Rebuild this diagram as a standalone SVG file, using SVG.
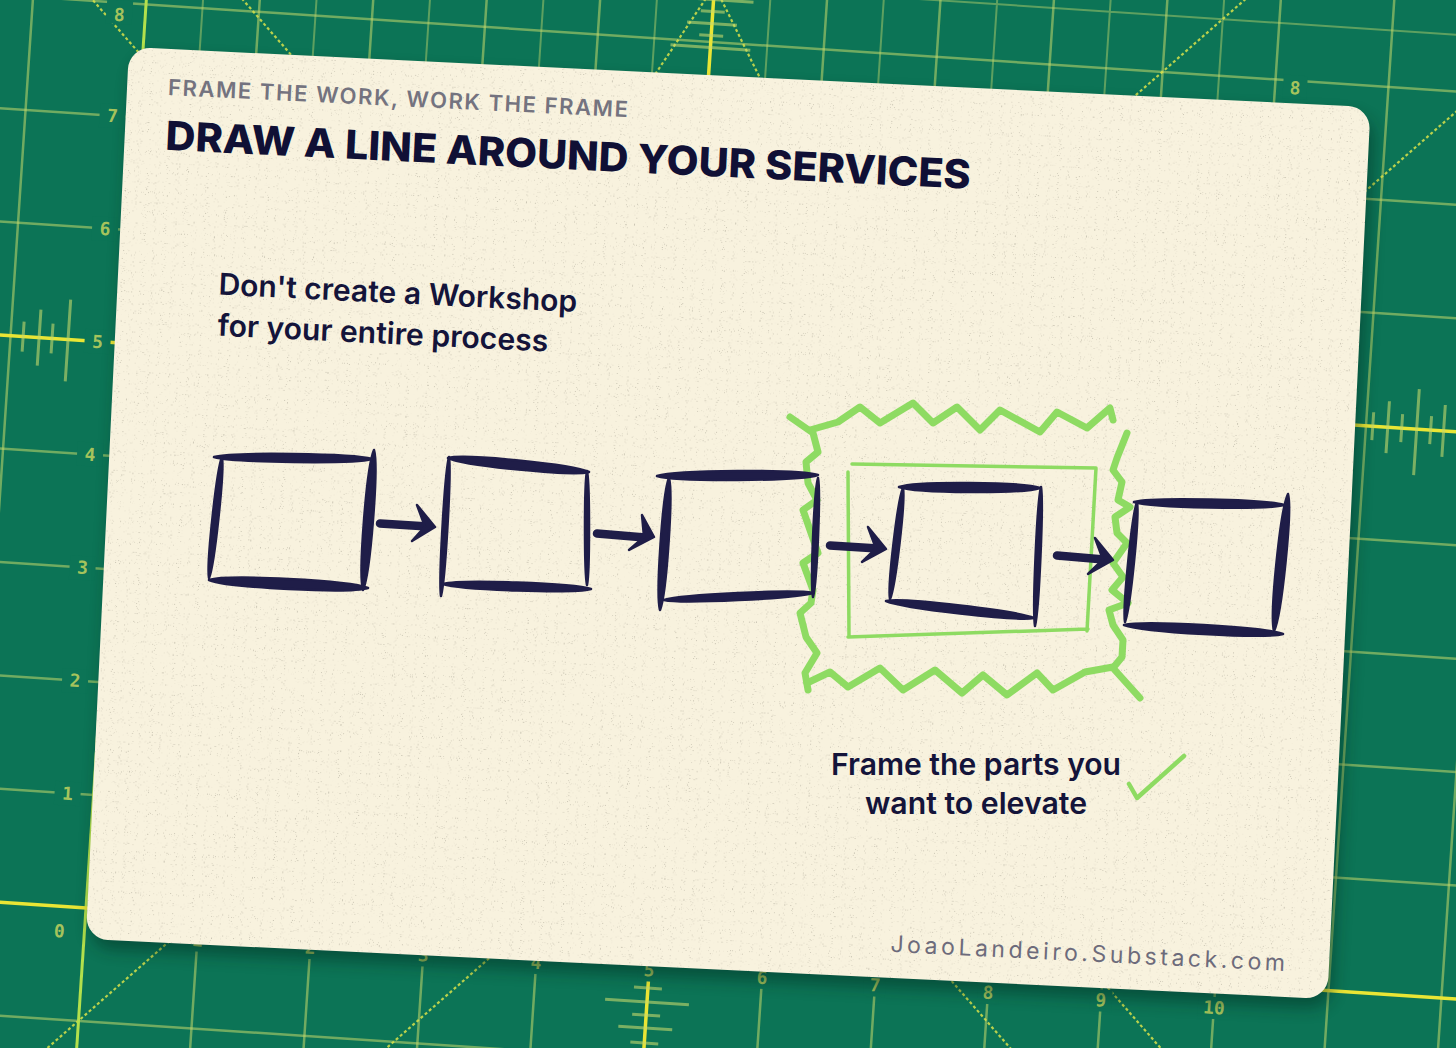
<svg xmlns="http://www.w3.org/2000/svg" width="1456" height="1048" viewBox="0 0 1456 1048">
<defs>
<style>
.g{fill:none;stroke:#c4d86c;stroke-opacity:.55;stroke-width:2.5}
.gh{fill:none;stroke:#c4d86c;stroke-opacity:.45;stroke-width:2}
.yl{fill:none;stroke:#e9e535;stroke-width:3.5}
.gz{fill:none;stroke:#b3e04c;stroke-width:3}
.diag{fill:none;stroke:#d9e24a;stroke-width:2.2;stroke-dasharray:3 2.5;stroke-opacity:.85}
.tick{fill:none;stroke:#c4d86c;stroke-opacity:.6;stroke-width:3}
.num{font-family:'DejaVu Sans Mono',monospace;font-weight:bold;font-size:18px;fill:#c2d25e;fill-opacity:.85;text-anchor:middle}
.ink{fill:#1f1d48;stroke:#1f1d48;stroke-width:2.5;stroke-linejoin:round}
.shaft{fill:none;stroke:#1f1d48;stroke-width:8.5;stroke-linecap:round}
.lime{fill:none;stroke:#8edb62;stroke-linejoin:round;stroke-linecap:round}
.sub{font-family:Inter,'Liberation Sans',sans-serif;font-weight:600;font-size:22px;fill:#74737f;letter-spacing:1.7px}
.title{font-family:Inter,'Liberation Sans',sans-serif;font-weight:800;font-size:40px;fill:#101035}
.lead{font-family:Inter,'Liberation Sans',sans-serif;font-weight:600;font-size:30px;fill:#14143a}
.url{font-family:Inter,'Liberation Sans',sans-serif;font-weight:400;font-size:23px;fill:#6d6b7b;letter-spacing:4px}
</style>
<filter id="sh" x="-5%" y="-5%" width="110%" height="115%"><feGaussianBlur stdDeviation="8"/></filter>
<filter id="grain" x="0" y="0" width="100%" height="100%">
<feTurbulence type="fractalNoise" baseFrequency="0.9" numOctaves="1" seed="7" result="n"/>
<feColorMatrix in="n" type="matrix" values="0 0 0 0 0.3 0 0 0 0 0.28 0 0 0 0 0.22 10 0 0 0 -6.5"/>
<feComposite in2="SourceGraphic" operator="in"/>
</filter>
</defs>

<rect width="1456" height="1048" fill="#0c7456"/>

<g id="mat" transform="translate(86 908) rotate(3.8)">
<path class="g" d="M-200 113.2H1420M-200 -113.2H1420M-200 -226.4H1420M-200 -339.6H1420M-200 -452.8H1420M-200 -679.2H1420M-200 -792.4H1420M-200 -905.6H1420"/>
<path class="g" d="M-113.2 -1060V200M113.2 -1060V200M226.4 -1060V200M339.6 -1060V200M452.8 -1060V200M679.2 -1060V200M792.4 -1060V200M905.6 -1060V200M1018.8 -1060V200M1132 -1060V200M1245.2 -1060V200M1358.4 -1060V200"/>
<path class="gh" d="M56.6 -1060V-850M169.8 -1060V-850M283 -1060V-850M396.2 -1060V-850M509.4 -1060V-850M622.6 -1060V-850M735.8 -1060V-850M849 -1060V-850M962.2 -1060V-850M1075.4 -1060V-850M-200 -962.2H1420"/>
<path class="diag" d="M-197 -1050L1053 200M-37 -1050L1213 200M1163 -1050L-87 200M1479 -1050L229 200M616 -1048.6L366 -615.6M516 -1048.6L766 -615.6"/>
<path class="gz" d="M0 -1060V200"/>
<path class="yl" d="M-200 0H1420M-200 -566H1420M566 -1060V200"/>
<path class="tick" d="M-100.6 -581V-551M-84.6 -594V-538M-71.6 -581V-551M-55.6 -606V-524M1252 -580V-552M1267 -592V-540M1281 -580V-552M1296 -606V-520M1310 -580V-552M1323 -592V-540M552 42.6H580M524 56.6H608M552 69.7H580M539 82.7H593M552 97.7H580M526 -948H606M554 -936H578M541 -924H591M554 -912H578M526 -900H606"/>
<g fill="#0c7456">
<rect x="-39" y="-125" width="26" height="24"/><rect x="-39" y="-238" width="26" height="24"/><rect x="-39" y="-351" width="26" height="24"/><rect x="-39" y="-465" width="26" height="24"/><rect x="-39" y="-578" width="26" height="24"/><rect x="-39" y="-691" width="26" height="24"/><rect x="-39" y="-804" width="26" height="24"/><rect x="-39" y="-908" width="26" height="24"/>
<rect x="102" y="14" width="22" height="22"/><rect x="215" y="14" width="22" height="22"/><rect x="328" y="14" width="22" height="22"/><rect x="442" y="14" width="22" height="22"/><rect x="555" y="14" width="22" height="22"/><rect x="668" y="14" width="22" height="22"/><rect x="781" y="14" width="22" height="22"/><rect x="895" y="14" width="22" height="22"/><rect x="1008" y="14" width="22" height="22"/><rect x="1116" y="14" width="32" height="22"/>
<rect x="1140" y="-911" width="24" height="24"/>
</g>
<g class="num">
<text x="-26" y="-106.7">1</text><text x="-26" y="-219.9">2</text><text x="-26" y="-333.1">3</text><text x="-26" y="-446.3">4</text><text x="-26" y="-559.5">5</text><text x="-26" y="-672.7">6</text><text x="-26" y="-785.9">7</text><text x="-26" y="-887">8</text><text x="-25" y="31">0</text>
<text x="113.2" y="31">1</text><text x="226.4" y="31">2</text><text x="339.6" y="31">3</text><text x="452.8" y="31">4</text><text x="566" y="31">5</text><text x="679.2" y="31">6</text><text x="792.4" y="31">7</text><text x="905.6" y="31">8</text><text x="1018.8" y="31">9</text><text x="1132" y="31">10</text>
<text x="1152" y="-892">8</text>
</g>
</g>

<rect transform="translate(133 57) rotate(2.77)" width="1243" height="893" rx="22" fill="#01281a" opacity="0.45" filter="url(#sh)"/>

<g id="card" transform="translate(129 47) rotate(2.77)">
<rect width="1243" height="893" rx="22" fill="#f8f2de"/>
<rect width="1243" height="893" rx="22" fill="#f8f2de" filter="url(#grain)" opacity="0.45"/>
<text class="sub" x="41" y="46" textLength="462" lengthAdjust="spacing">FRAME THE WORK, WORK THE FRAME</text>
<text class="title" x="41" y="101" textLength="806" lengthAdjust="spacingAndGlyphs">DRAW A LINE AROUND YOUR SERVICES</text>
<text class="lead" x="101" y="243" textLength="359" lengthAdjust="spacingAndGlyphs">Don't create a Workshop</text>
<text class="lead" x="102" y="284" textLength="331" lengthAdjust="spacingAndGlyphs">for your entire process</text>
<text class="url" x="804" y="867" textLength="399" lengthAdjust="spacing">JoaoLandeiro.Substack.com</text>
</g>

<g id="focus-frame" class="lime">
<path stroke-width="7" d="M790 417L813 433L818 452L806 462L808 483L817 500L803 510L810 530L818 553L803 563L813 590L811 603L800 613L806 637L817 653L805 673L808 690"/>
<path stroke-width="7" d="M810 430L838 422L860 407L880 423L913 403L933 423L957 407L980 430L1000 410L1040 432L1057 412L1087 428L1110 408L1113 420"/>
<path stroke-width="7" d="M1127 433L1117 458L1113 470L1122 482L1118 500L1130 507L1115 517L1117 533L1127 543L1113 563L1123 577L1112 590L1128 603L1109 610L1113 625L1123 640L1122 657L1113 668L1140 698"/>
<path stroke-width="7" d="M807 683L830 672L848 687L880 668L903 690L935 670L962 693L983 675L1007 695L1037 673L1053 690L1085 672L1113 667"/>
<path stroke-width="3.5" d="M852 464L1096 468M1096 468L1087 631M848 637L1088 629M848 472L849 637"/>
</g>

<g id="box1" class="ink">
<path d="M214 457C233 451.9 353 453.5 372 459C353 464.1 233 462.5 214 457Z"/>
<path d="M374 450C378.7 466.8 370.3 573.2 363 590C358.3 573.2 366.7 466.8 374 450Z"/>
<path d="M209 580C228.1 574.3 348.9 580.3 368 588C348.9 593.7 228.1 587.7 209 580Z"/>
<path d="M222 457C224.4 471.5 214.6 563.5 209 578C206.6 563.5 216.4 471.5 222 457Z"/>
</g>
<g id="box2" class="ink">
<path d="M448 458C464.9 453.7 572.1 464.3 589 472C572.1 476.3 464.9 465.7 448 458Z"/>
<path d="M587 471C589.7 484.7 589.7 571.3 587 585C584.3 571.3 584.3 484.7 587 471Z"/>
<path d="M443 584C460.8 579.3 573.2 583.1 591 589C573.2 593.7 460.8 589.9 443 584Z"/>
<path d="M449 457C451.3 473.7 445.3 579.3 441 596C438.7 579.3 444.7 473.7 449 457Z"/>
</g>
<g id="box3" class="ink">
<path d="M657 476C676.3 469.9 798.7 469.1 818 475C798.7 481.1 676.3 481.9 657 476Z"/>
<path d="M669 478C673.2 493.8 666.4 594.2 660 610C655.8 594.2 662.6 493.8 669 478Z"/>
<path d="M818 478C820.7 492.3 816.9 582.7 813 597C810.3 582.7 814.1 492.3 818 478Z"/>
<path d="M664 600C681.9 594.5 795.1 589.1 813 593C795.1 598.5 681.9 603.9 664 600Z"/>
</g>
<g id="box4" class="ink">
<path d="M899 487C915.9 481.1 1023.1 481.9 1040 488C1023.1 493.9 915.9 493.1 899 487Z"/>
<path d="M903 488C905.4 501.3 895.6 585.7 890 599C887.6 585.7 897.4 501.3 903 488Z"/>
<path d="M886 601C903.8 597.7 1016.2 610.7 1034 618C1016.2 621.3 903.8 608.3 886 601Z"/>
<path d="M1041 487C1043.6 503.7 1039 609.3 1035 626C1032.4 609.3 1037 503.7 1041 487Z"/>
</g>
<g id="box5" class="ink">
<path d="M1134 502C1152 497.1 1266 499.3 1284 505C1266 509.9 1152 507.7 1134 502Z"/>
<path d="M1288 494C1292.3 510.4 1281.7 614.6 1274 631C1269.7 614.6 1280.3 510.4 1288 494Z"/>
<path d="M1124 625C1143.1 620.1 1263.9 626.9 1283 634C1263.9 638.9 1143.1 632.1 1124 625Z"/>
<path d="M1137 502C1139.6 516.4 1130.4 607.6 1125 622C1122.6 607.6 1131.8 516.4 1137 502Z"/>
</g>

<g id="connectors">
<path class="shaft" d="M380 523.5L428 526.5"/>
<path class="ink" stroke-width="3" d="M417 505L435 527L412 541L425 526.5Z"/>
<path class="shaft" d="M597 533.5L645 537.5"/>
<path class="ink" stroke-width="3" d="M642 515L654 537L629 550L644 537Z"/>
<path class="shaft" d="M830 545.5L878 548.5"/>
<path class="ink" stroke-width="3" d="M868 527L886 549L862 562L876 548.5Z"/>
<path class="shaft" d="M1057 555.5L1104 559.5"/>
<path class="ink" stroke-width="3" d="M1095 538L1113 560L1088 574L1103 559.5Z"/>
</g>

<g id="caption">
<text class="lead" font-weight="700" x="976" y="775" text-anchor="middle" textLength="290" lengthAdjust="spacingAndGlyphs">Frame the parts you</text>
<text class="lead" font-weight="700" x="976" y="813.5" text-anchor="middle" textLength="222" lengthAdjust="spacingAndGlyphs">want to elevate</text>
<path class="lime" stroke-width="4.5" d="M1129 784L1137 798L1184 756"/>
</g>
</svg>
